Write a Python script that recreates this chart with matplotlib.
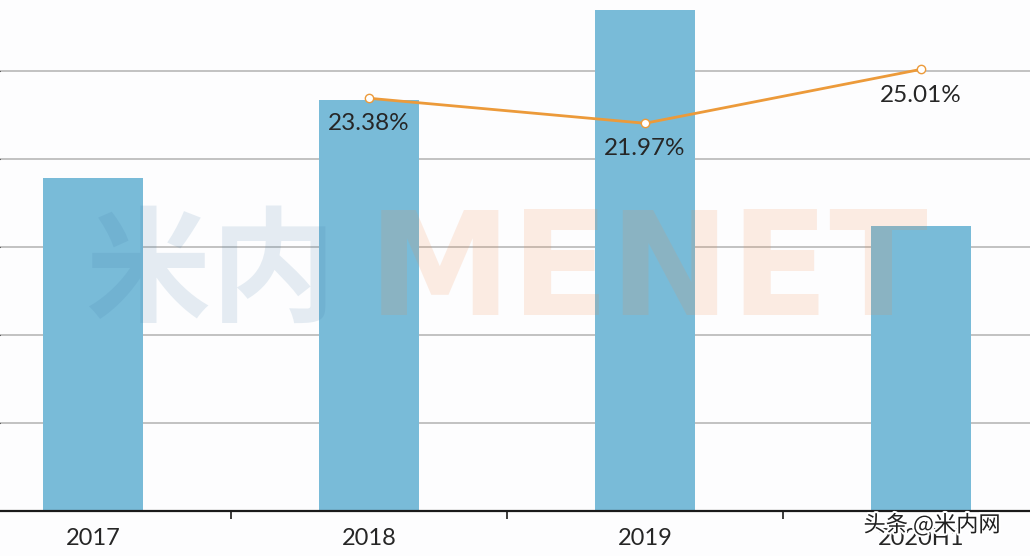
import numpy as np
import matplotlib.pyplot as plt
import matplotlib.patheffects as pe

plt.rcParams["font.family"] = ["Lato", "Noto Sans CJK SC", "DejaVu Sans"]

# ============================================================
# 数据
# ============================================================

years = ["2017", "2018", "2019", "2020H1"]
sales = [3.78, 4.67, 5.69, 3.24]          # 柱：销售额（按网格单位估读）
growth_years = ["2018", "2019", "2020H1"]
growth = [23.38, 21.97, 25.01]            # 折线：增长率 %

bar_color = "#79BBD8"
line_color = "#EC9A3A"
text_color = "#262626"

fig = plt.figure(figsize=(10.30, 5.56), dpi=100)
ax = fig.add_axes([0, 0, 1, 1])
fig.patch.set_facecolor("#FDFDFE")
ax.set_facecolor("none")

x = np.arange(len(years))
ax.bar(x, sales, width=0.362, color=bar_color, zorder=2)

ax.set_xlim(-0.337, 3.395)
ax.set_ylim(-0.511, 5.807)

# 网格
ax.set_yticks([1, 2, 3, 4, 5])
ax.yaxis.grid(True, color="#BDBDBD", linewidth=1.3)
ax.set_axisbelow(True)
ax.tick_params(axis="y", left=False, labelleft=False)

# x 轴：基线在 0
for s in ["left", "right", "top"]:
    ax.spines[s].set_visible(False)
ax.spines["bottom"].set_position(("data", 0))
ax.spines["bottom"].set_color("#1a1a1a")
ax.spines["bottom"].set_linewidth(1.6)

ax.set_xticks([0.5, 1.5, 2.5])
ax.set_xticklabels([])
ax.tick_params(axis="x", which="major", direction="out", length=6,
               width=1.2, color="#1a1a1a")
ax.set_xticks(x, minor=True)
ax.set_xticklabels(years, minor=True)
ax.tick_params(axis="x", which="minor", length=0, pad=12.5,
               labelsize=17, labelcolor=text_color)

# 折线（次坐标轴）
ax2 = ax.twinx()
ax2.set_ylim(-2.43, 28.92)
ax2.axis("off")
gx = [years.index(g) for g in growth_years]
ax2.plot(gx, growth, color=line_color, linewidth=2.0, marker="o",
         markersize=6, markerfacecolor="white", markeredgecolor=line_color,
         markeredgewidth=1.0, zorder=3)
for xi, v in zip(gx, growth):
    ax2.annotate(f"{v:.2f}%", (xi, v), xytext=(0, -18.5),
                 textcoords="offset points", ha="center", va="center",
                 fontsize=17.5, color=text_color)

# 水印
fig.text(0.205, 0.505, "米内", fontsize=90, fontweight="bold",
         color="#3C78A8", alpha=0.13, ha="center", va="center",
         family=["Noto Sans CJK SC"])
fig.text(0.629, 0.505, "MENET", fontsize=104, fontweight="black",
         color="#F08848", alpha=0.15, ha="center", va="center",
         family=["DejaVu Sans"])

fig.text(0.905, 0.056, "头条 @米内网", fontsize=16, color="#202020",
         ha="center", va="center", family=["Noto Sans CJK SC", "DejaVu Sans"],
         path_effects=[pe.withStroke(linewidth=3, foreground="white")])

fig.savefig("out.png", dpi=100, facecolor=fig.get_facecolor())
